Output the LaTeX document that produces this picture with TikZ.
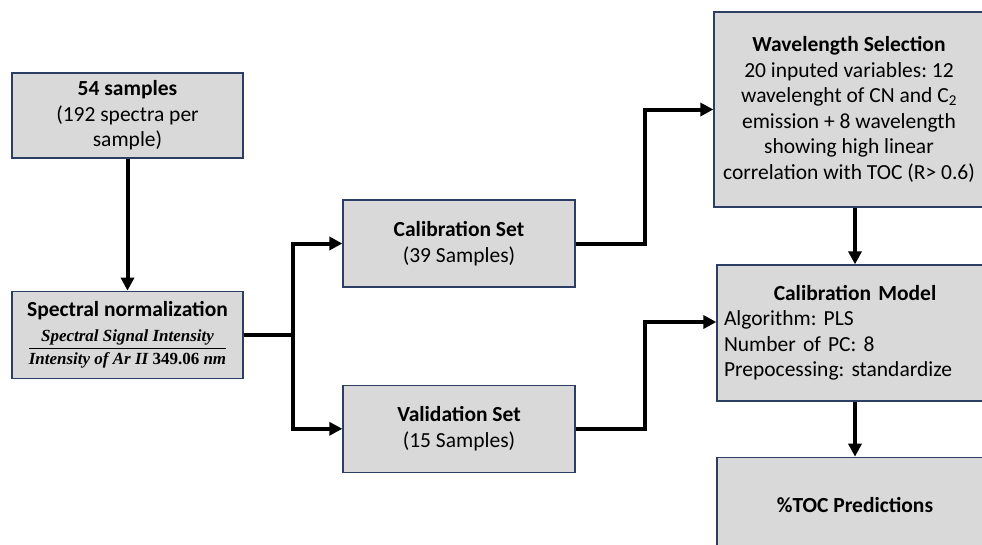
\documentclass[tikz,border=0pt]{standalone}
\usepackage{amsmath}
\usepackage{fontspec}
\setmainfont{Carlito}
\newfontfamily\fracfont{Liberation Serif}
\usepackage{tikz}
\usetikzlibrary{arrows.meta,positioning,calc}
\definecolor{boxgray}{RGB}{217,217,217}
\definecolor{boxline}{RGB}{44,62,100}
\newcommand{\fr}[1]{\hbox{\fracfont\bfseries\itshape #1}}
\frenchspacing
\tikzset{
  box/.style={draw=boxline,line width=1.3pt,fill=boxgray,align=center,inner sep=4pt,font=\fontsize{21.5}{25.5}\selectfont},
  arr/.style={-{Triangle[length=13pt,width=13pt]},line width=4pt},
  ln/.style={line width=4pt},
}
\begin{document}
\begin{tikzpicture}[x=1pt,y=1pt]
 \useasboundingbox (0,0) rectangle (982,-544);
 \node[box,minimum width=231pt,minimum height=85pt] (samp) at (127.5,-115.5) {\textbf{54 samples}\\(192 spectra per\\sample)};
 \node[box,minimum width=231pt,minimum height=87pt,below=132pt of samp] (norm) {\textbf{Spectral normalization}\\[9pt]
   {\fontsize{17}{20}\selectfont$\displaystyle\frac{\fr{Spectral Signal Intensity}}{\fr{Intensity of Ar II \upshape 349.06 \itshape nm}}$}};
 \node[box,minimum width=232pt,minimum height=87pt] (calset) at (459,-243.5) {\textbf{Calibration Set}\\(39 Samples)};
 \node[box,minimum width=232pt,minimum height=87pt,below=97pt of calset] (valset) {\textbf{Validation Set}\\(15 Samples)};
 \node[box,minimum width=270pt,minimum height=195pt] (wave) at (849,-109.5) {\textbf{Wavelength Selection}\\20 inputed variables: 12\\wavelenght of CN and C\textsubscript{2}\\emission + 8 wavelength\\showing high linear\\correlation with TOC (R> 0.6)};
 \node[box,text width=262pt,inner xsep=7pt,minimum height=136pt,align=left] (model) at (855,-333) {\makebox[\hsize]{\bfseries Calibration Model}\\Algorithm: PLS\\Number of PC: 8\\Prepocessing: standardize};
 \node[box,minimum width=276pt,minimum height=96pt,below=55pt of model] (toc) {\textbf{\%TOC Predictions}};
 % connectors
 \draw[arr] (samp) -- (norm);
 \draw[ln] (norm.east) -- ++(49.5,0) coordinate (split);
 \draw[arr] (split) |- (calset.west);
 \draw[arr] (split) |- (valset.west);
 \draw[arr] (calset.east) -- ++(69,0) |- (wave.west);
 \draw[arr] (valset.east) -- ++(69,0) |- ([yshift=11pt]model.west);
 \draw[arr] (model.north |- wave.south) -- (model.north);
 \draw[arr] (model) -- (toc);
\end{tikzpicture}
\end{document}
